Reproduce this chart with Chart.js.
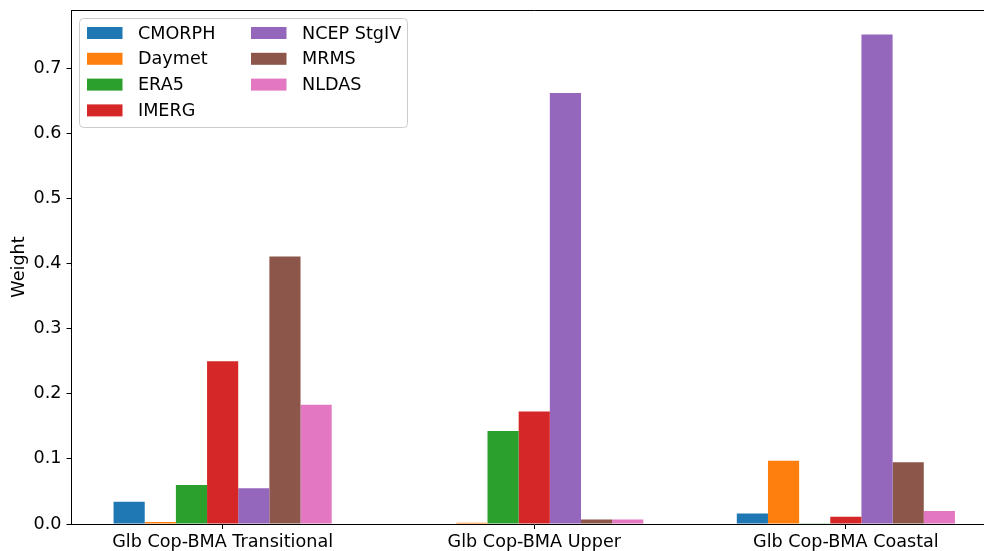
<!DOCTYPE html>
<html>
<head>
<meta charset="utf-8">
<script src="https://cdn.jsdelivr.net/npm/chart.js@4.4.1/dist/chart.umd.min.js"></script>
<style>
  html, body { margin: 0; padding: 0; background: #fff; overflow: hidden; }
  #wrap { width: 997px; height: 551px; }
</style>
</head>
<body>
<div id="wrap"><canvas id="c" width="997" height="551"></canvas></div>
<script>
const categories = ['Glb Cop-BMA Transitional', 'Glb Cop-BMA Upper', 'Glb Cop-BMA Coastal'];
const seriesNames = ['CMORPH', 'Daymet', 'ERA5', 'IMERG', 'NCEP StgIV', 'MRMS', 'NLDAS'];
const seriesColors = ['#1f77b4', '#ff7f0e', '#2ca02c', '#d62728', '#9467bd', '#8c564b', '#e377c2'];
const cmorph = [0.034, 0.000, 0.016];
const daymet = [0.003, 0.002, 0.097];
const era5   = [0.060, 0.143, 0.001];
const imerg  = [0.250, 0.173, 0.011];
const ncep   = [0.055, 0.662, 0.752];
const mrms   = [0.411, 0.007, 0.095];
const nldas  = [0.183, 0.007, 0.020];
const yTicks = [0.0, 0.1, 0.2, 0.3, 0.4, 0.5, 0.6, 0.7];
const seriesValues = [cmorph, daymet, era5, imerg, ncep, mrms, nldas];

const FONT = 'DejaVu Sans';
const FS = 17.6;
Chart.defaults.color = '#000';
Chart.defaults.font.family = FONT;
Chart.defaults.font.size = FS;

const datasets = seriesNames.map((name, s) => ({
  label: name,
  data: seriesValues[s].map((v, i) => ({ x: i, y: v })),
  backgroundColor: seriesColors[s],
  borderWidth: 0,
  categoryPercentage: 0.7,
  barPercentage: 1.0
}));

const frameLegend = {
  id: 'frameLegend',
  afterDraw(chart) {
    const ctx = chart.ctx;
    const a = chart.chartArea;
    ctx.save();
    ctx.strokeStyle = '#000';
    ctx.lineWidth = 1;
    ctx.beginPath();
    ctx.moveTo(a.left, a.top + 0.5);
    ctx.lineTo(a.right, a.top + 0.5);
    ctx.moveTo(a.right - 0.5, a.top);
    ctx.lineTo(a.right - 0.5, a.bottom);
    ctx.stroke();

    const bx = a.left + 8, by = a.top + 8.5, bw = 328, bh = 109, r = 4;
    ctx.beginPath();
    ctx.moveTo(bx + r, by);
    ctx.lineTo(bx + bw - r, by);
    ctx.quadraticCurveTo(bx + bw, by, bx + bw, by + r);
    ctx.lineTo(bx + bw, by + bh - r);
    ctx.quadraticCurveTo(bx + bw, by + bh, bx + bw - r, by + bh);
    ctx.lineTo(bx + r, by + bh);
    ctx.quadraticCurveTo(bx, by + bh, bx, by + bh - r);
    ctx.lineTo(bx, by + r);
    ctx.quadraticCurveTo(bx, by, bx + r, by);
    ctx.closePath();
    ctx.fillStyle = 'rgba(255,255,255,0.8)';
    ctx.fill();
    ctx.strokeStyle = '#cccccc';
    ctx.lineWidth = 1;
    ctx.stroke();

    ctx.font = FS + 'px "' + FONT + '"';
    ctx.textBaseline = 'middle';
    ctx.textAlign = 'left';
    chart.data.datasets.forEach((ds, i) => {
      const col = i < 4 ? 0 : 1;
      const row = i < 4 ? i : i - 4;
      const hx = bx + 7.5 + col * 164;
      const cy = by + 14.5 + row * 25.8;
      ctx.fillStyle = ds.backgroundColor;
      ctx.fillRect(hx, cy - 6, 35.5, 12);
      ctx.fillStyle = '#000';
      ctx.fillText(ds.label, hx + 51, cy + 1);
    });
    ctx.restore();
  }
};

new Chart(document.getElementById('c'), {
  type: 'bar',
  data: { datasets },
  options: {
    responsive: false,
    devicePixelRatio: 1,
    animation: false,
    layout: { padding: { left: 0, right: 0, top: 10, bottom: 0 } },
    plugins: { legend: { display: false }, tooltip: { enabled: false } },
    scales: {
      x: {
        type: 'linear',
        min: -0.485,
        max: 2.485,
        offset: false,
        grid: { offset: false, drawOnChartArea: false, tickLength: 5, color: '#000', tickWidth: 1 },
        border: { color: '#000', width: 1 },
        afterBuildTicks(axis) { axis.ticks = categories.map((c, i) => ({ value: i })); },
        ticks: {
          autoSkip: false,
          maxRotation: 0,
          padding: 3,
          callback: (v) => categories[v]
        },
        afterFit(axis) { axis.height = 27; axis.paddingLeft = 0; axis.paddingRight = 0; }
      },
      y: {
        min: 0,
        max: 0.7896,
        grid: { drawOnChartArea: false, tickLength: 5, color: '#000', tickWidth: 1 },
        border: { color: '#000', width: 1 },
        afterBuildTicks(axis) { axis.ticks = yTicks.map(v => ({ value: v })); },
        ticks: {
          padding: 5,
          callback: (v) => Number(v).toFixed(1)
        },
        title: {
          display: true,
          text: 'Weight',
          padding: { top: 9, bottom: 0 }
        },
        afterFit(axis) { axis.width = 71.5; axis.paddingTop = 0; axis.paddingBottom = 0; }
      }
    }
  },
  plugins: [frameLegend]
});
</script>
</body>
</html>
